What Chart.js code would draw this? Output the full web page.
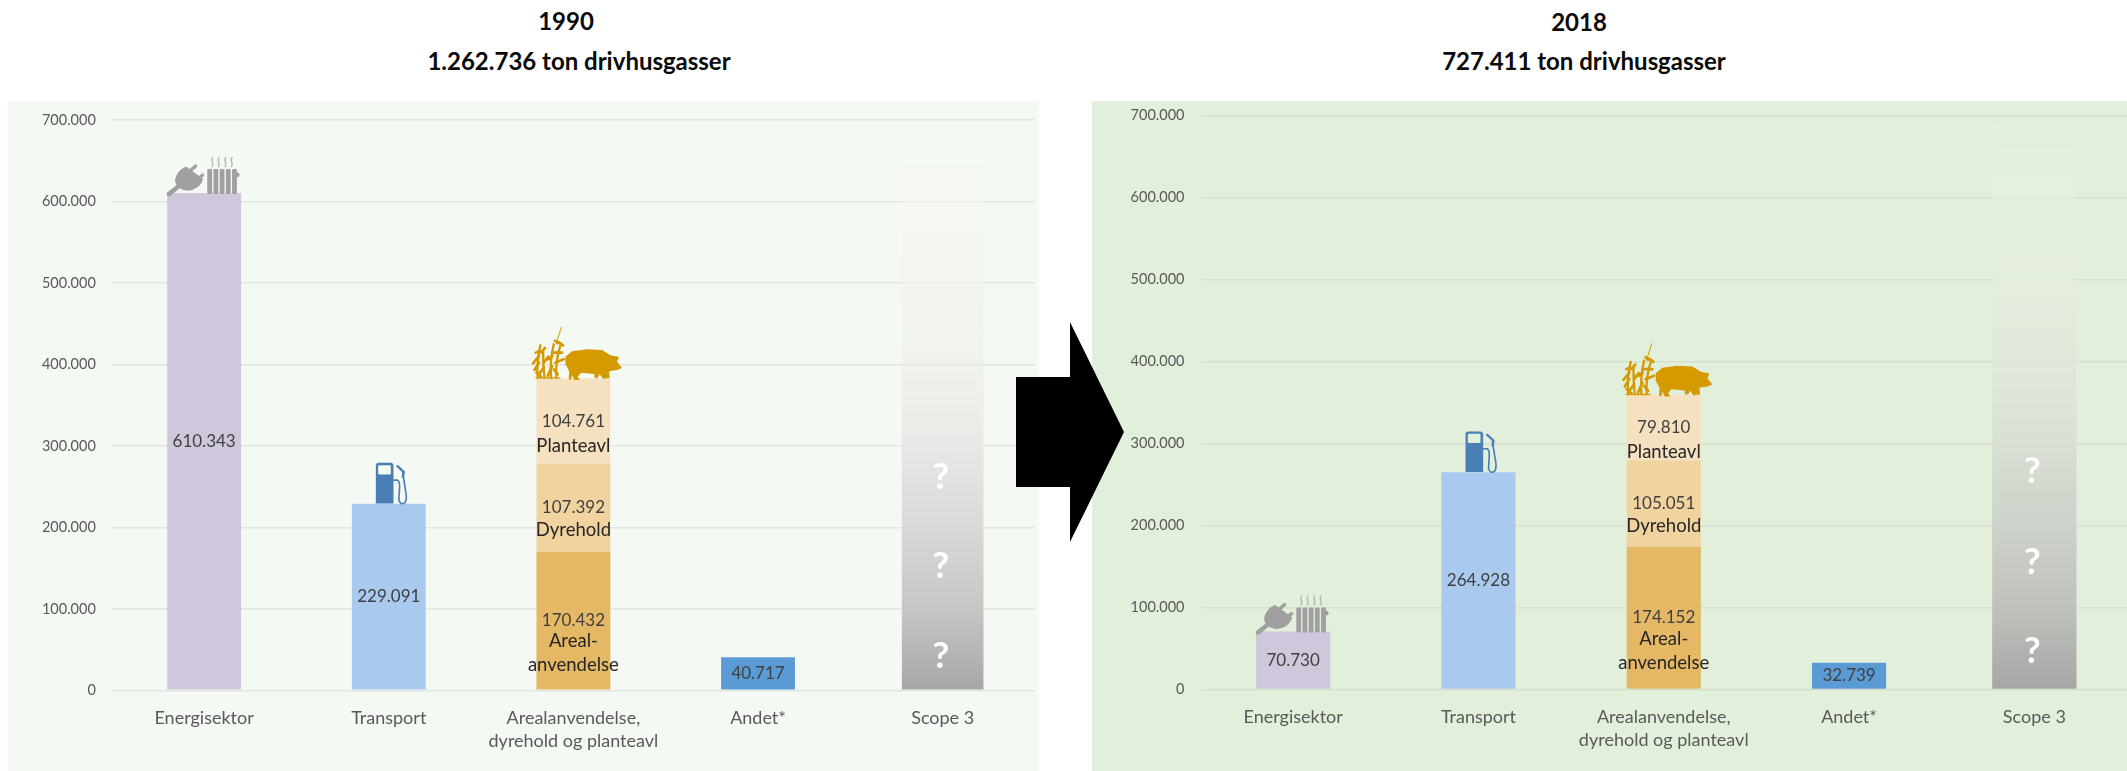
<!DOCTYPE html>
<html lang="da">
<head>
<meta charset="utf-8">
<title>Drivhusgasser 1990 og 2018</title>
<script src="https://cdn.jsdelivr.net/npm/chart.js@4/dist/chart.umd.min.js"></script>
<style>
html,body{margin:0;padding:0;width:2127px;height:771px;overflow:hidden;background:#fff}
.panel{position:absolute}
canvas{position:absolute;filter:blur(0.35px)}
.title{position:absolute;transform:translate(-50%,-50%);white-space:nowrap;font:bold 24px Lato,sans-serif;color:#0a0a0a}
svg{position:absolute;left:0;top:0}
</style>
</head>
<body>
<div class="panel" style="left:8px;top:101px;width:1031px;height:670px;background:#F4F9F3"></div>
<div class="panel" style="left:1092px;top:101px;width:1035px;height:670px;background:#E2EFDA"></div>
<div class="title" style="left:566px;top:20px">1990</div>
<div class="title" style="left:579px;top:60px">1.262.736 ton drivhusgasser</div>
<div class="title" style="left:1579px;top:21px">2018</div>
<div class="title" style="left:1584px;top:60px">727.411 ton drivhusgasser</div>
<canvas id="c1990" style="left:8px;top:101px"></canvas>
<canvas id="c2018" style="left:1092px;top:101px"></canvas>
<svg width="2127" height="771"><polygon fill="#000" points="1016,377 1070,377 1070,322 1124,432 1070,542 1070,487 1016,487"/></svg>
<script>
const categories = ["Energisektor","Transport",["Arealanvendelse,","dyrehold og planteavl"],"Andet*","Scope 3"];
const tickValues = [0,100000,200000,300000,400000,500000,600000,700000];

const sector1990 = [610343,229091,null,40717,null];
const areal1990 = [null,null,170432,null,null];
const dyrehold1990 = [null,null,107392,null,null];
const plante1990 = [null,null,104761,null,null];
const scope1990 = [null,null,null,null,645000];

const sector2018 = [70730,264928,null,32739,null];
const areal2018 = [null,null,174152,null,null];
const dyrehold2018 = [null,null,105051,null,null];
const plante2018 = [null,null,79810,null,null];
const scope2018 = [null,null,null,null,690000];

const sectorColors = ["#CFC7DC","#A9CAEE","#E5B865","#5B9BD5","#A6A6A6"];
const fmt = v => String(v).replace(/\B(?=(\d{3})+(?!\d))/g,".");
const FONT = "Lato, sans-serif";

function scopeGradient(stops){
  return function(ctx){
    const chart = ctx.chart, y = chart.scales.y, top = ctx.dataset.data[4];
    if(!y || !chart.chartArea) return stops[0][1];
    const g = chart.ctx.createLinearGradient(0,y.getPixelForValue(0),0,y.getPixelForValue(top));
    stops.forEach(s => g.addColorStop(Math.min(1,s[0]/top),s[1]));
    return g;
  };
}

function plugIcon(c,x,y){
  c.save(); c.translate(x-54.2,y-53.3); c.scale(1/3,1/3);
  c.fillStyle=c.strokeStyle="#A0A0A0"; c.lineCap="round";
  c.lineWidth=14; c.beginPath(); c.moveTo(57,163); c.lineTo(88,138); c.stroke();
  c.beginPath(); c.moveTo(75,122); c.quadraticCurveTo(80,92,108,80); c.lineTo(160,118); c.quadraticCurveTo(150,150,112,153); c.quadraticCurveTo(78,148,75,122); c.fill();
  c.lineWidth=10;
  c.beginPath(); c.moveTo(115,98); c.lineTo(137,79); c.stroke();
  c.beginPath(); c.moveTo(140,122); c.lineTo(158,106); c.stroke();
  for(let i=0;i<5;i++){ c.beginPath(); c.roundRect(172+i*18.6,88,14.5,75,4); c.fill(); }
  c.beginPath(); c.arc(262,105,7,0,7); c.fill();
  c.strokeStyle="#B8B8B8"; c.lineWidth=4; c.lineCap="butt";
  [187,206,226,245].forEach(sx=>{ c.beginPath(); c.moveTo(sx+3,52); c.bezierCurveTo(sx-10,60,sx+10,72,sx-2,82); c.stroke(); });
  c.restore();
}
function pumpIcon(c,x,y,bg){
  c.save(); c.translate(x-28.6,y-53.5); c.scale(1/3,1/3);
  c.fillStyle=c.strokeStyle="#4A7FB5";
  c.beginPath(); c.roundRect(47,38,53,122,[9,9,0,0]); c.fill();
  c.fillStyle=bg; c.beginPath(); c.roundRect(54,45,38,28,3); c.fill();
  c.lineWidth=5; c.lineCap="round"; c.lineJoin="round";
  c.beginPath(); c.moveTo(100,90); c.lineTo(112,90); c.quadraticCurveTo(120,95,118,115); c.lineTo(116,150); c.quadraticCurveTo(122,166,134,158); c.quadraticCurveTo(142,148,136,120); c.lineTo(130,82); c.lineTo(128,68); c.stroke();
  c.lineWidth=7; c.beginPath(); c.moveTo(112,48); c.lineTo(131,66); c.lineTo(128,80); c.stroke();
  c.restore();
}
function pigIcon(c,x,y){
  c.save(); c.translate(x-53,y-59.3); c.scale(1/3,1/3);
  c.fillStyle=c.strokeStyle="#D49A00";
  c.beginPath();
  [[135,112],[155,96],[200,90],[245,92],[270,108],[296,113],[290,127],[305,146],[290,152],[266,156],[268,176],[248,178],[238,165],[232,176],[222,175],[222,164],[182,160],[172,172],[178,182],[162,182],[155,168],[152,182],[145,180],[146,155],[135,135]]
    .forEach((p,i)=> i? c.lineTo(p[0],p[1]) : c.moveTo(p[0],p[1]));
  c.closePath(); c.fill();
  c.lineCap="round"; c.lineWidth=7;
  const stems=[[52,175,60,78],[72,175,68,95],[92,175,100,75],[108,175,122,72]];
  stems.forEach(s=>{ c.beginPath(); c.moveTo(s[0],s[1]); c.quadraticCurveTo(s[0]-4,(s[1]+s[3])/2,s[2],s[3]); c.stroke(); });
  c.lineWidth=3; c.beginPath(); c.moveTo(108,70); c.lineTo(123,24); c.stroke();
  c.lineWidth=8;
  const leaves=[[56,130,42,152],[56,110,38,132],[58,95,46,100],[62,100,74,86],[70,130,84,112],[70,145,56,165],[95,140,82,170],[96,110,84,120],[100,100,125,100],[104,130,130,120],[112,72,104,64],[114,68,128,78],[100,150,112,165],[48,160,62,172]];
  leaves.forEach(l=>{ c.beginPath(); c.moveTo(l[0],l[1]); c.lineTo(l[2],l[3]); c.stroke(); });
  c.fillRect(45,174,75,4);
  c.restore();
}

function drawOverlay(chart,opt){
  const c = chart.ctx, y = chart.scales.y;
  const centre = (ds,i) => { const b = chart.getDatasetMeta(ds).data[i]; return {x:b.x, top:b.y, mid:(b.y+b.base)/2}; };
  const text = (t,x,yy,font,color) => { c.font=font; c.fillStyle=color; c.fillText(t,x,yy); };
  c.save(); c.textAlign="center"; c.textBaseline="middle";
  const vf = "17px "+FONT, lf = "18.5px "+FONT, vc="#404040", lc="#262626";
  chart.data.datasets[0].data.forEach((v,i)=>{ if(v!==null){ const p=centre(0,i); text(fmt(v),p.x,p.mid,vf,vc);} });
  const a=centre(1,2), d=centre(2,2), f=centre(3,2);
  text(fmt(chart.data.datasets[1].data[2]),a.x,a.mid,vf,vc);
  text("Areal-",a.x,a.mid+21,lf,lc); text("anvendelse",a.x,a.mid+45,lf,lc);
  text(fmt(chart.data.datasets[2].data[2]),d.x,d.mid,vf,vc); text("Dyrehold",d.x,d.mid+22,lf,lc);
  text(fmt(chart.data.datasets[3].data[2]),f.x,f.mid,vf,vc); text("Planteavl",f.x,f.mid+24.5,lf,lc);
  const s=centre(4,4);
  opt.marks.forEach(v=> text("?",s.x-2,y.getPixelForValue(v),"bold 37px "+FONT,"rgba(255,255,255,.97)"));
  c.restore();
  const e=centre(0,0), t=centre(0,1);
  plugIcon(c,e.x,e.top); pumpIcon(c,t.x,t.top,opt.bg); pigIcon(c,f.x,f.top);
}

function makeChart(id,o){
  const el=document.getElementById(id); el.width=o.w; el.height=o.h;
  el.style.width=o.w+"px"; el.style.height=o.h+"px";
  return new Chart(el,{
    type:"bar",
    data:{labels:categories,datasets:[
      {label:"Sektor",data:o.sector,backgroundColor:sectorColors},
      {label:"Arealanvendelse",data:o.areal,backgroundColor:"#E5B865"},
      {label:"Dyrehold",data:o.dyrehold,backgroundColor:"#F1D3A0"},
      {label:"Planteavl",data:o.plante,backgroundColor:"#F5E1C0"},
      {label:"Scope 3",data:o.scope,backgroundColor:scopeGradient(o.stops),barPercentage:o.scopeBar}
    ]},
    options:{
      responsive:false,animation:false,devicePixelRatio:1,
      layout:{padding:{top:o.top,right:o.right,left:0,bottom:0}},
      datasets:{bar:{barPercentage:0.4,categoryPercentage:1,borderWidth:0}},
      plugins:{legend:{display:false},tooltip:{enabled:false},title:{display:false}},
      scales:{
        x:{stacked:true,grid:{display:false},border:{display:false},
           ticks:{color:"#595959",font:{family:FONT,size:18,lineHeight:1.28},padding:8,maxRotation:0,autoSkip:false},
           afterFit:s=>{s.height=o.axisH;s.paddingLeft=0;s.paddingRight=0;}},
        y:{stacked:true,min:0,max:700000,grid:{color:o.grid,lineWidth:1.4,drawTicks:false},border:{display:false},
           afterBuildTicks:s=>{s.ticks=tickValues.map(v=>({value:v}));},
           ticks:{color:"#595959",font:{family:FONT,size:14.5},padding:16,callback:v=>fmt(v)},
           afterFit:s=>{s.width=o.axisW;s.paddingTop=0;s.paddingBottom=0;}}
      }
    },
    plugins:[{id:"overlay",afterDatasetsDraw:ch=>drawOverlay(ch,o)}]
  });
}

const stops1990=[[0,"#A6A6A6"],[100000,"#C6C7C5"],[200000,"#D9DAD8"],[300000,"#E8E9E6"],[400000,"rgba(236,237,233,.6)"],[500000,"rgba(241,241,237,.55)"],[600000,"rgba(246,246,241,.5)"],[645000,"rgba(246,246,241,.35)"]];
const stops2018=[[0,"#A6A6A6"],[100000,"#BFC2BC"],[200000,"#CDD2CA"],[300000,"#D9DFD4"],[400000,"rgba(224,228,220,.7)"],[500000,"rgba(230,236,225,.6)"],[600000,"rgba(232,240,226,.5)"],[690000,"rgba(230,240,224,.4)"]];

makeChart("c1990",{w:1031,h:670,top:19,right:4,axisW:103.8,axisH:80.7,scopeBar:0.442,grid:"#E2E6E1",bg:"#F4F9F3",
  sector:sector1990,areal:areal1990,dyrehold:dyrehold1990,plante:plante1990,scope:scope1990,stops:stops1990,marks:[262000,152000,42000]});
makeChart("c2018",{w:1035,h:670,top:14.5,right:0,axisW:108.5,axisH:81.5,scopeBar:0.455,grid:"#D5DFD2",bg:"#E2EFDA",
  sector:sector2018,areal:areal2018,dyrehold:dyrehold2018,plante:plante2018,scope:scope2018,stops:stops2018,marks:[266000,156000,47000]});
</script>
</body>
</html>
